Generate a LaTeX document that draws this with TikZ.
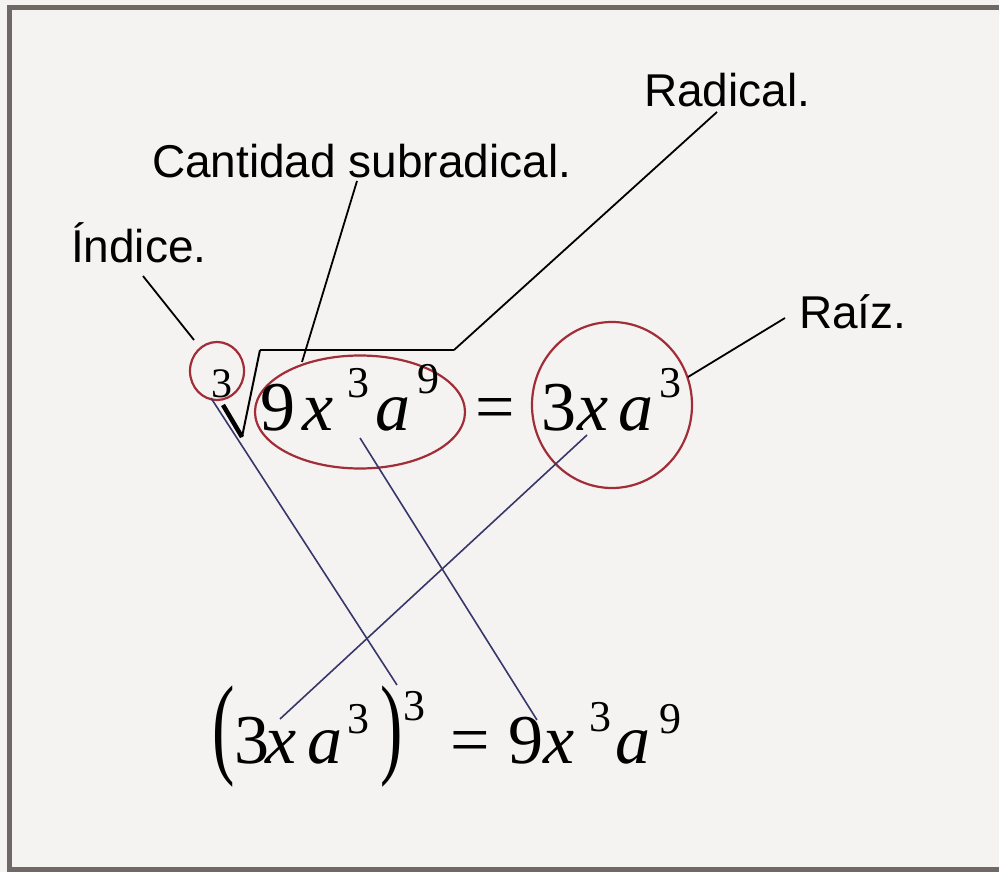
\documentclass[tikz,border=0pt]{standalone}
\usepackage{fontspec}
\usepackage{graphicx}
\setmainfont{Liberation Serif}
\newfontfamily\labfont{Liberation Sans}
\usetikzlibrary{shapes.geometric}
\definecolor{bgc}{RGB}{245,243,241}
\definecolor{framec}{RGB}{112,104,100}
\definecolor{ringc}{RGB}{160,45,55}
\definecolor{navyc}{RGB}{55,55,105}
\begin{document}
\begin{tikzpicture}[x=1pt,y=-1pt,
  tok/.style={anchor=base west,inner sep=0pt,outer sep=0pt},
  big/.style={tok,font=\fontsize{70}{70}\selectfont},
  bigit/.style={tok,font=\fontsize{70}{70}\selectfont\itshape},
  supr/.style={tok,font=\fontsize{44}{44}\selectfont},
  paren/.style={tok,font=\fontsize{112}{112}\selectfont},
  lab/.style={tok,font=\fontsize{46}{46}\selectfont\labfont},
  ring/.style={ellipse,draw=ringc,line width=2.2pt,inner sep=0pt},
  pointer/.style={draw=black,line width=1.8pt},
  link/.style={draw=navyc,line width=1.6pt}]
\useasboundingbox (0,0) rectangle (999,872);
\fill[bgc] (0,0) rectangle (999,872);
% frame
\draw[framec,line width=5.5pt] (9.5,5) -- (9.5,872);
\draw[framec,line width=5.5pt] (7,7.5) -- (999,7.5);
\draw[framec,line width=5.5pt] (7,869.5) -- (999,869.5);

% rings
\node[ring,minimum width=54pt,minimum height=58pt] (idxring) at (217,371) {};
\node[ring,minimum width=210pt,minimum height=113pt] (subring) at (360,412) {};
\node[ring,minimum width=160pt,minimum height=166pt] (rootring) at (612,405) {};

% labels
\node[lab] (lrad) at (644,107) {Radical.};
\node[lab] (lcant) at (152,178) {Cantidad subradical.};
\node[lab] (lind) at (71,262) {Índice.};
\node[lab] (lraiz) at (799,328) {Raíz.};

% top equation
\node[supr,font=\fontsize{42}{42}\selectfont] (idx) at (211,397) {3};
\node[big] (t9) at (260,430) {9};
\node[bigit] (tx) at (302,430) {x};
\node[supr] (tx3) at (347,397) {3};
\node[bigit] (ta) at (375,430) {a};
\node[supr] (ta9) at (417,393) {9};
\node[big] (teq) at (475,430) {=};
\node[big] (r3) at (541,430) {3};
\node[bigit] (rx) at (577,430) {x};
\node[bigit] (ra) at (618,430) {a};
\node[supr] (ra3) at (659,397) {3};

% radical sign
\coordinate (vtick) at (223,405);
\coordinate (vbot) at (242,437);
\coordinate (vtop) at (260,350);
\coordinate (vend) at (454,350);
\draw[line width=4.5pt] (vtick) -- (vbot);
\draw[line width=2pt] (vbot) -- (vtop);
\draw[line width=2.6pt] (vtop) -- (vend);

% bottom equation
\node[paren] (lp) at (212,763) {\scalebox{0.6}[1]{(}};
\node[big] (b3) at (234,763) {3};
\node[bigit] (bx) at (265,763) {x};
\node[bigit] (ba) at (307,763) {a};
\node[supr] (ba3) at (347,733) {3};
\node[paren] (rp) at (380,763) {\scalebox{0.6}[1]{)}};
\node[supr] (rp3) at (403,720) {3};
\node[big] (beq) at (450,763) {=};
\node[big] (b9) at (508,763) {9};
\node[bigit] (bxx) at (543,763) {x};
\node[supr] (bx3) at (589,731) {3};
\node[bigit] (baa) at (615,763) {a};
\node[supr] (ba9) at (659,733) {9};

% label pointers
\coordinate (pind1) at (143,276);
\coordinate (pind2) at (194,340);
\coordinate (pcan1) at (357,181);
\coordinate (pcan2) at (302,362);
\coordinate (prad1) at (717,112);
\coordinate (praiz1) at (785,318);
\coordinate (praiz2) at (688,377);
\draw[pointer] (pind1) -- (pind2);
\draw[pointer] (pcan1) -- (pcan2);
\draw[pointer] (prad1) -- (vend);
\draw[pointer] (praiz1) -- (praiz2);

% links between equations
\coordinate (la1) at (211,398);
\coordinate (la2) at (397,685);
\coordinate (lb1) at (360,438);
\coordinate (lb2) at (537,720);
\coordinate (lc1) at (587,435);
\coordinate (lc2) at (280,719);
\draw[link] (la1) -- (la2);
\draw[link] (lb1) -- (lb2);
\draw[link] (lc1) -- (lc2);
\end{tikzpicture}
\end{document}
